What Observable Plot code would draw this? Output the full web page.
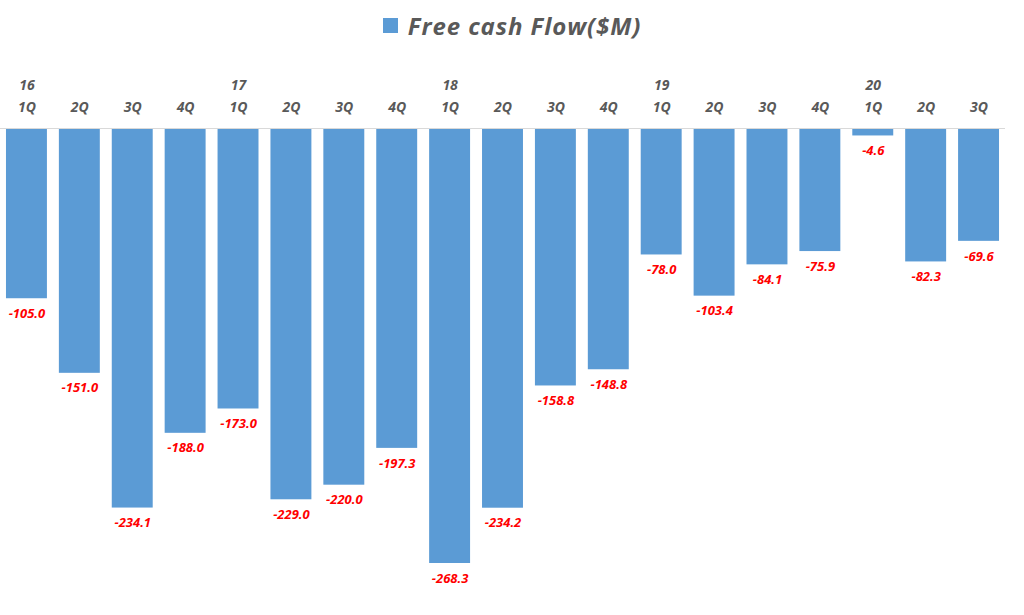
<!DOCTYPE html>
<html>
<head>
<meta charset="utf-8">
<script src="https://cdn.jsdelivr.net/npm/d3@7"></script>
<script src="https://cdn.jsdelivr.net/npm/@observablehq/plot@0.6"></script>
<style>
  html, body { margin: 0; padding: 0; background: #fff; }
  body { width: 1024px; height: 615px; overflow: hidden; font-family: "Open Sans", sans-serif; }
  #title { height: 50px; display: flex; align-items: center; justify-content: center; }
  #title .sw { width: 15px; height: 15px; background: #5b9bd5; margin-right: 10px; }
  #title .tx { font-size: 24px; letter-spacing: 0.9px; font-weight: bold; font-style: italic; color: #595959; }
  #chart svg { display: block; }
</style>
</head>
<body>
<div id="title"><span class="sw"></span><span class="tx">Free cash Flow($M)</span></div>
<div id="chart"></div>
<script>
const quarters = ["1Q","2Q","3Q","4Q","1Q","2Q","3Q","4Q","1Q","2Q","3Q","4Q","1Q","2Q","3Q","4Q","1Q","2Q","3Q"];
const years    = ["16","","","","17","","","","18","","","","19","","","","20","",""];
const values   = [-105.0,-151.0,-234.1,-188.0,-173.0,-229.0,-220.0,-197.3,-268.3,-234.2,-158.8,-148.8,-78.0,-103.4,-84.1,-75.9,-4.6,-82.3,-69.6];

const data = values.map((v, i) => ({key: i, q: quarters[i], yr: years[i], v}));

const chart = Plot.plot({
  width: 1024,
  height: 565,
  marginLeft: 0,
  marginRight: 19,
  marginTop: 78,
  marginBottom: 52,
  style: {fontFamily: "'Open Sans', sans-serif", background: "#fff"},
  x: {domain: data.map(d => d.key), paddingInner: 0.226, paddingOuter: 0.113, round: false},
  y: {domain: [-268.3, 0], axis: null},
  marks: [
    Plot.barY(data, {x: "key", y: "v", fill: "#5b9bd5"}),
    Plot.ruleY([0], {stroke: "#d9d9d9", strokeWidth: 1}),
    Plot.axisX({
      anchor: "top",
      tickSize: 0,
      tickPadding: 17,
      label: null,
      lineHeight: 1.55,
      tickFormat: i => years[i] ? years[i] + "\n" + quarters[i] : quarters[i],
      fontSize: 14,
      fontWeight: "bold",
      fontStyle: "italic",
      fill: "#595959"
    }),
    Plot.text(data, {
      x: "key", y: "v",
      text: d => d.v.toFixed(1),
      dy: 15,
      fill: "#ff0000",
      fontSize: 13,
      fontWeight: "bold",
      fontStyle: "italic"
    })
  ]
});
document.getElementById("chart").appendChild(chart);
</script>
</body>
</html>
